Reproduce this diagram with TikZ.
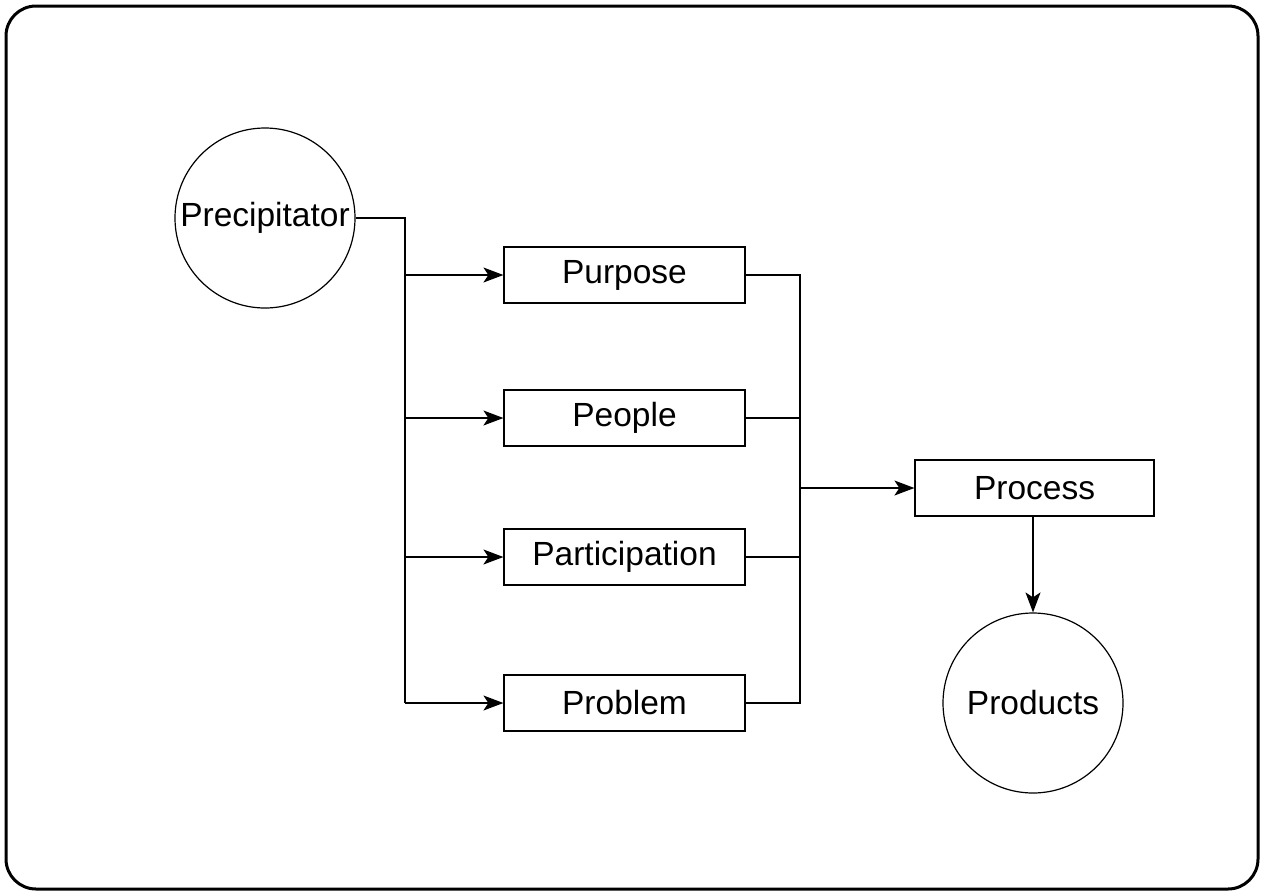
\documentclass[tikz,border=0pt]{standalone}
\usepackage{fontspec}
\setmainfont{Liberation Sans}
\usetikzlibrary{arrows.meta}
\begin{document}
\begin{tikzpicture}[x=1pt,y=-1pt,
  line width=1.2pt,
  labelfont/.style={font=\fontsize{33.5}{38}\selectfont},
  stepbox/.style={draw, rectangle, minimum width=241pt, minimum height=56pt, inner sep=0pt, labelfont},
  roundnode/.style={draw, circle, minimum size=180pt, inner sep=0pt, labelfont},
  arr/.style={-{Stealth[length=20pt,width=15pt,inset=5pt]}}
]
\useasboundingbox (0,0) rectangle (1264,895);
% outer frame
\draw[line width=3pt, rounded corners=30pt] (6,6) rectangle (1258,889);

% nodes
\node[roundnode] (prec) at (265,218) {Precipitator};
\node[stepbox] (purpose) at (624.5,275) {Purpose};
\node[stepbox] (people) at (624.5,418) {People};
\node[stepbox] (partic) at (624.5,557) {Participation};
\node[stepbox] (problem) at (624.5,703) {Problem};
\node[stepbox, minimum width=239pt] (process) at (1034.5,488) {Process};
\node[roundnode] (products) at (1033,703) {Products};

% fan-out bus from the precipitator
\coordinate (busL) at (405,218);
\draw (prec.east) -- (busL) -- (busL |- problem.west);
\foreach \n in {purpose,people,partic,problem}
  \draw[arr] (busL |- \n.west) -- (\n.west);

% fan-in bus to the process
\coordinate (busR) at (800,275);
\draw (purpose.east) -- (busR) -- (busR |- problem.east) -- (problem.east);
\foreach \n in {people,partic}
  \draw (\n.east) -- (busR |- \n.east);
\draw[arr] (busR |- process.west) -- (process.west);

% process to products
\draw[arr] (products.north |- process.south) -- (products.north);
\end{tikzpicture}
\end{document}
